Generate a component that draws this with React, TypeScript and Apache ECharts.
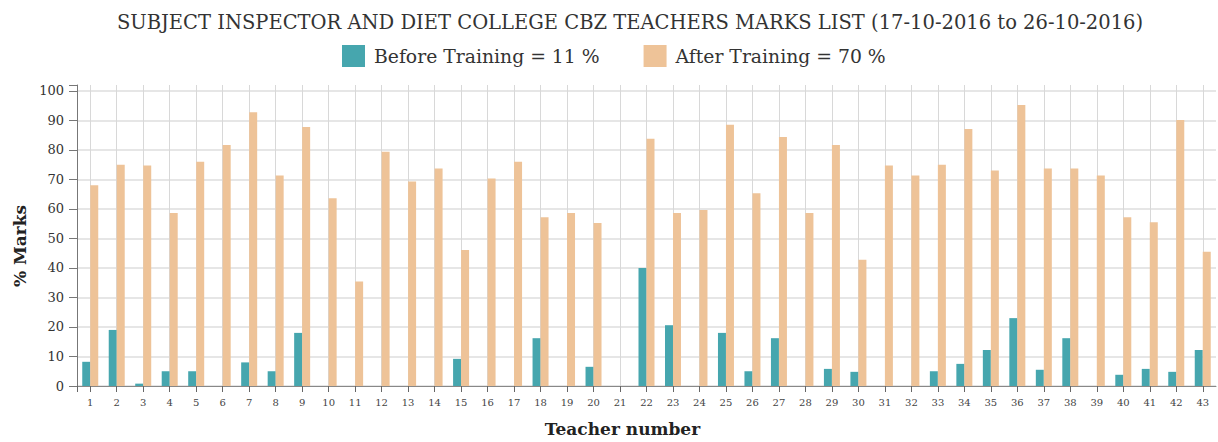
import React, { useEffect, useRef } from "react";
import * as echarts from "echarts";

const TITLE = "SUBJECT INSPECTOR AND DIET COLLEGE CBZ TEACHERS MARKS LIST (17-10-2016 to 26-10-2016)";
const SERIES_NAMES = ["Before Training = 11 %", "After Training = 70 %"];
const TEACHERS = Array.from({ length: 43 }, (_, i) => String(i + 1));
const BEFORE = [
  8.2, 19, 0.8, 5, 5, 0, 8, 5, 18, 0,
  0, 0, 0, 0, 9.2, 0, 0, 16.2, 0, 6.5,
  0, 40, 20.6, 0, 18, 5, 16.2, 0, 5.8, 4.8,
  0, 0, 5, 7.5, 12.2, 23, 5.5, 16.2, 0, 3.8,
  5.8, 4.8, 12.2,
];
const AFTER = [
  68, 75, 74.7, 58.6, 76, 81.7, 92.8, 71.3, 87.8, 63.6,
  35.4, 79.4, 69.3, 73.7, 46.1, 70.3, 76, 57.2, 58.6, 55.2,
  0, 83.8, 58.6, 59.6, 88.5, 65.3, 84.4, 58.6, 81.7, 42.8,
  74.7, 71.3, 75, 87.1, 73, 95.2, 73.7, 73.7, 71.3, 57.2,
  55.5, 90.1, 45.5,
];
const Y_TICK_MAX = 100;

const COLORS = ["#46a6ae", "#eec398"];
const FONT = "'DejaVu Serif', 'Liberation Serif', serif";

export default function App() {
  const ref = useRef<HTMLDivElement>(null);
  useEffect(() => {
    if (!ref.current) return;
    const chart = echarts.init(ref.current, undefined, { renderer: "svg" });
    // half-step positions so ticks/gridlines fall on teacher centers
    const halfSteps: string[] = [""];
    TEACHERS.forEach((t) => {
      halfSteps.push(t);
      halfSteps.push("");
    });
    chart.setOption({
      animation: false,
      color: COLORS,
      title: {
        text: TITLE,
        left: 625,
        textAlign: "center",
        top: 7,
        textStyle: {
          fontFamily: FONT,
          fontSize: 19.5,
          fontWeight: "normal",
          color: "#333",
        },
      },
      legend: {
        left: 342,
        top: 45,
        padding: 0,
        itemWidth: 23,
        itemHeight: 22,
        itemGap: 44,
        icon: "rect",
        textStyle: { fontFamily: FONT, fontSize: 18.8, color: "#333", padding: [0, 0, 0, 4] },
        data: SERIES_NAMES,
      },
      grid: { left: 77, right: 2, top: 85, bottom: 50 },
      xAxis: [
        {
          type: "category",
          data: TEACHERS,
          show: false,
        },
        {
          type: "category",
          data: halfSteps,
          boundaryGap: false,
          position: "bottom",
          name: "Teacher number",
          nameLocation: "middle",
          nameGap: 34,
          nameTextStyle: {
            fontFamily: FONT,
            fontSize: 17,
            fontWeight: "bold",
            color: "#222",
            padding: [0, 48, 0, 0],
          },
          axisLine: { lineStyle: { color: "#888", width: 1 } },
          axisTick: {
            interval: (i: number) => i % 2 === 1 || i === 0,
            length: 6,
            lineStyle: { color: "#666" },
          },
          axisLabel: {
            interval: (i: number) => i % 2 === 1,
            fontFamily: FONT,
            fontSize: 10,
            color: "#444",
            margin: 11,
          },
          splitLine: {
            show: true,
            interval: (i: number) => i % 2 === 1,
            lineStyle: { color: "#d8d8d8", width: 1 },
          },
        },
      ],
      yAxis: {
        type: "value",
        min: 0,
        max: 102,
        interval: 10,
        name: "% Marks",
        nameLocation: "middle",
        nameGap: 48,
        nameTextStyle: {
          fontFamily: FONT,
          fontSize: 17,
          fontWeight: "bold",
          color: "#222",
          padding: [0, 21, 0, 0],
        },
        axisLine: { show: true, lineStyle: { color: "#777" } },
        axisTick: { show: true, length: 8, lineStyle: { color: "#777" } },
        axisLabel: {
          formatter: (v: number) => (v > Y_TICK_MAX ? "" : String(v)),
          fontFamily: FONT,
          fontSize: 13,
          color: "#333",
          margin: 13,
        },
        splitLine: { show: true, showMaxLine: false, lineStyle: { color: "#e6e6e6", width: 2 } },
      },
      series: [
        {
          name: SERIES_NAMES[0],
          type: "bar",
          xAxisIndex: 0,
          data: BEFORE,
          barWidth: 8,
          barGap: "0%",
          itemStyle: { color: COLORS[0] },
        },
        {
          name: SERIES_NAMES[1],
          type: "bar",
          xAxisIndex: 0,
          data: AFTER,
          barWidth: 8,
          barGap: "0%",
          itemStyle: { color: COLORS[1] },
        },
      ],
    });
    return () => chart.dispose();
  }, []);
  return <div ref={ref} style={{ width: 1218, height: 442, position: "absolute", left: 0, top: 0 }} />;
}
